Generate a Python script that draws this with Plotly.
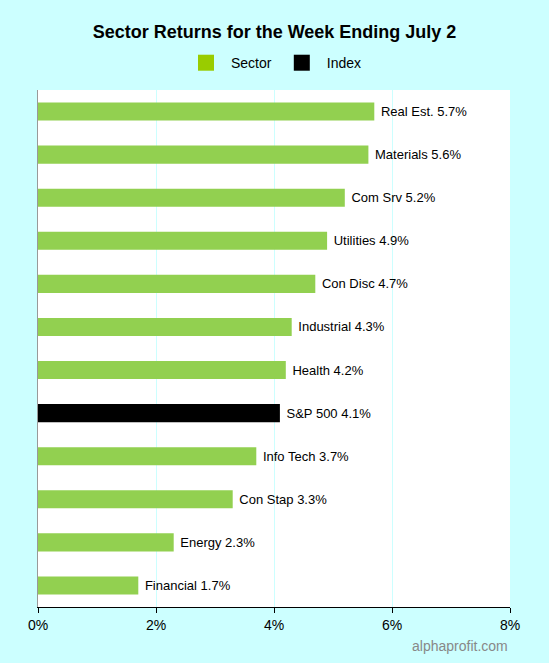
import plotly.graph_objects as go

labels = ["Real Est.", "Materials", "Com Srv", "Utilities", "Con Disc", "Industrial", "Health",
          "S&P 500", "Info Tech", "Con Stap", "Energy", "Financial"]
values = [5.7, 5.6, 5.2, 4.9, 4.7, 4.3, 4.2, 4.1, 3.7, 3.3, 2.3, 1.7]
kinds = ["Sector"] * 7 + ["Index"] + ["Sector"] * 4
ticks = [0, 2, 4, 6, 8]

colors = ["#000000" if k == "Index" else "#92d050" for k in kinds]
ylab = list(reversed(labels))
fig = go.Figure()
fig.add_trace(go.Bar(
    y=ylab, x=list(reversed(values)), orientation="h",
    marker=dict(color=list(reversed(colors)), line=dict(width=0)),
    width=0.42, text=[f"\u00a0{l}\u00a0{v}%" for l, v in zip(ylab, reversed(values))],
    textposition="outside", textfont=dict(size=13, color="black"),
    cliponaxis=False, showlegend=False, hoverinfo="skip"))
fig.add_trace(go.Scatter(y=[None], x=[None], mode="markers", name="Sector",
                         marker=dict(color="#99cc00", symbol="square", size=17)))
fig.add_trace(go.Scatter(y=[None], x=[None], mode="markers", name="Index",
                         marker=dict(color="#000000", symbol="square", size=17)))
fig.update_layout(
    width=549, height=663, paper_bgcolor="#ccffff", plot_bgcolor="#ffffff",
    font=dict(family="Liberation Sans, Arial", size=13, color="black"),
    margin=dict(l=38, r=39, t=90, b=56),
    title=dict(text="<b>Sector Returns for the Week Ending July 2</b>", x=0.5, xanchor="center",
               y=0.952, yanchor="middle", font=dict(size=18)),
    legend=dict(orientation="h", x=0.5, xanchor="center", y=1.052, yanchor="middle",
                font=dict(size=14), bgcolor="rgba(0,0,0,0)", itemwidth=40),
    xaxis=dict(range=[0, 8], tickvals=ticks, ticktext=[f"{t}%" for t in ticks],
               showgrid=True, gridcolor="#ccffff", zeroline=False,
               showline=True, linecolor="black", ticks="outside", tickcolor="black",
               ticklen=5, tickfont=dict(size=14), fixedrange=True),
    yaxis=dict(showticklabels=False, showgrid=False, showline=True, linecolor="#999999",
               categoryorder="array", categoryarray=ylab, range=[-0.5, 11.5]),
    bargap=0.58,
)
fig.add_annotation(text="alphaprofit.com", xref="paper", yref="paper", x=1.0, y=-0.075,
                   xanchor="right", yanchor="middle", showarrow=False,
                   font=dict(size=14, color="#888888"))
fig.write_html("out.html", config={"displayModeBar": False},
               post_script="document.body.style.margin='0';")
